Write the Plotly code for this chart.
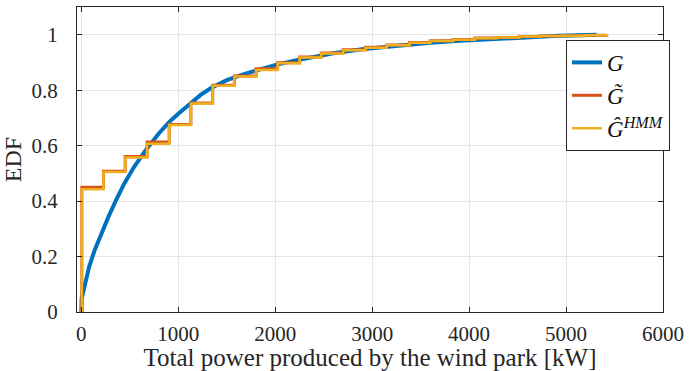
import plotly.graph_objects as go

# ---- data ----
g_x = [0, 3, 18, 46, 80, 137, 205, 279, 357, 442, 543, 662, 797, 900, 1000, 1119,
       1230, 1338, 1500, 1677, 1850, 2015, 2218, 2353, 2600, 2895, 3200, 3571,
       3900, 4249, 4600, 4926, 5315]
g_y = [0.0, 0.05, 0.07, 0.112, 0.163, 0.223, 0.283, 0.343, 0.403, 0.463, 0.523,
       0.583, 0.643, 0.683, 0.715, 0.752, 0.783, 0.808, 0.836, 0.858, 0.876, 0.892,
       0.908, 0.918, 0.933, 0.948, 0.959, 0.970, 0.978, 0.985, 0.991, 0.996, 1.0]

step_x = [5, 5, 228, 452, 678, 906, 1130, 1355, 1578, 1802, 2025, 2252, 2475,
          2700, 2930, 3150, 3385, 3600, 3835, 4060, 4280, 4520, 4740, 4965, 5195, 5420]
gt_y = [0.0, 0.450, 0.508, 0.561, 0.613, 0.676, 0.754, 0.818, 0.851, 0.877, 0.899,
        0.920, 0.934, 0.946, 0.955, 0.963, 0.972, 0.978, 0.983, 0.988, 0.990,
        0.994, 0.995, 0.996, 0.998, 1.0]
gh_y = [0.0, 0.443, 0.505, 0.557, 0.607, 0.674, 0.752, 0.816, 0.849, 0.873, 0.897,
        0.918, 0.932, 0.944, 0.953, 0.962, 0.971, 0.977, 0.982, 0.987, 0.990,
        0.994, 0.995, 0.996, 0.998, 1.0]

x_ticks = [0, 1000, 2000, 3000, 4000, 5000, 6000]
y_ticks = [0, 0.2, 0.4, 0.6, 0.8, 1]
y_tick_text = ["0", "0.2", "0.4", "0.6", "0.8", "1"]

FONT = "Liberation Serif, Times New Roman, serif"

fig = go.Figure()
fig.add_trace(go.Scatter(x=g_x, y=g_y, mode="lines", name="<i>G</i>",
                         line=dict(color="#0072BD", width=4, shape="linear")))
fig.add_trace(go.Scatter(x=step_x, y=gt_y, mode="lines", name="<i>G̃</i>",
                         line=dict(color="#D95319", width=3, shape="hv")))
fig.add_trace(go.Scatter(x=step_x, y=gh_y, mode="lines", name="<i>Ĝ</i><sup><i>HMM</i></sup>",
                         line=dict(color="#EDB120", width=2.5, shape="hv")))

axis_common = dict(showline=True, linecolor="#262626", linewidth=1, mirror="ticks",
                   ticks="inside", ticklen=5, tickcolor="#262626",
                   showgrid=True, gridcolor="#e5e5e5", gridwidth=1, zeroline=False,
                   ticklabeloverflow="allow",
                   tickfont=dict(family=FONT, size=21, color="#262626"))

fig.update_xaxes(range=[-45, 6000], tickvals=x_ticks,
                 ticktext=[str(v) for v in x_ticks],
                 ticklabelstandoff=3,
                 title=dict(text="Total power produced by the wind park [kW]",
                            font=dict(family=FONT, size=25, color="#262626"), standoff=1),
                 **axis_common)
fig.update_yaxes(range=[0, 1.1], tickvals=y_ticks, ticktext=y_tick_text,
                 ticklabelstandoff=14,
                 title=dict(text="EDF", font=dict(family=FONT, size=24, color="#262626"), standoff=4),
                 **axis_common)

fig.update_layout(
    width=690, height=371,
    margin=dict(l=77, r=17, t=6, b=59),
    plot_bgcolor="white", paper_bgcolor="white",
    legend=dict(x=1.012, y=0.892, xanchor="right", yanchor="top",
                bgcolor="white", bordercolor="#262626", borderwidth=1,
                font=dict(family=FONT, size=23, color="#111111"),
                itemwidth=30, tracegroupgap=0),
    showlegend=True,
)

fig.write_html("out.html")
